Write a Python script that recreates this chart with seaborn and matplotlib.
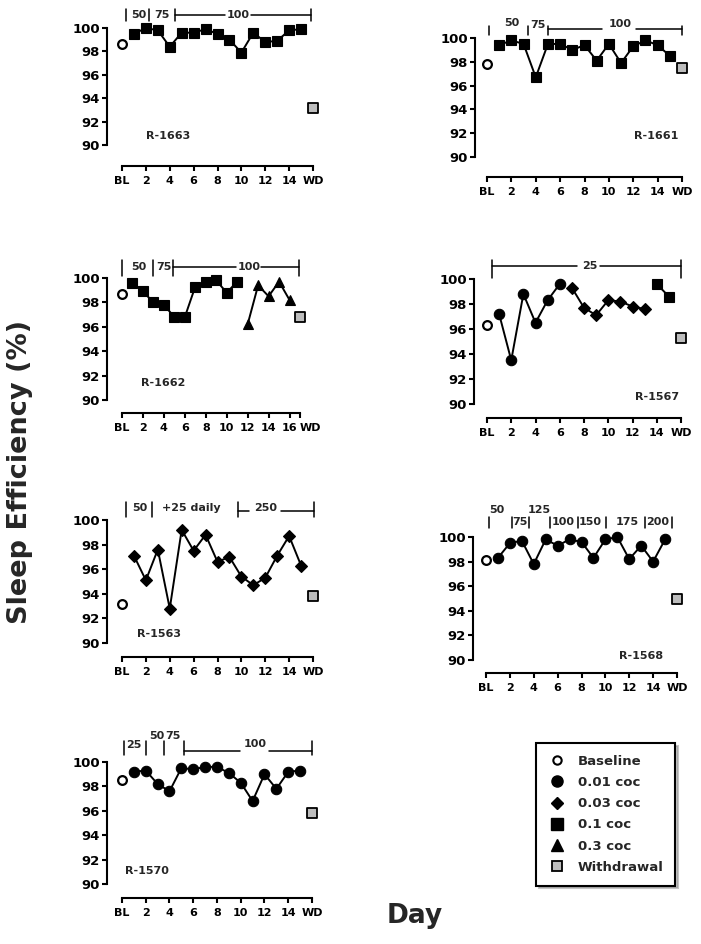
#!/usr/bin/env python3
"""Sleep efficiency per subject across cocaine self-administration days."""

import matplotlib
matplotlib.use("Agg")
import matplotlib.pyplot as plt
from matplotlib.lines import Line2D
from matplotlib.transforms import ScaledTranslation
import seaborn as sns

W, H = 701, 944

# ---------------- data (sleep efficiency, %) ----------------
R1663_BL, R1663_WD = 98.6, 93.2
R1663_SQ_DAYS = list(range(1, 16))
R1663_SQ = [99.5, 100.0, 99.8, 98.4, 99.6, 99.6, 99.9, 99.5, 99.0, 97.9,
            99.6, 98.8, 98.9, 99.8, 99.9]

R1661_BL, R1661_WD = 97.8, 97.5
R1661_SQ_DAYS = list(range(1, 16))
R1661_SQ = [99.4, 99.8, 99.5, 96.7, 99.5, 99.5, 99.0, 99.4, 98.1, 99.5,
            97.9, 99.3, 99.8, 99.4, 98.5]

R1662_BL, R1662_WD = 98.7, 96.8
R1662_SQ_DAYS = list(range(1, 12))
R1662_SQ = [99.6, 98.9, 98.0, 97.8, 96.8, 96.8, 99.3, 99.7, 99.8, 98.8, 99.7]
R1662_TRI_DAYS = list(range(12, 17))
R1662_TRI = [96.2, 99.4, 98.5, 99.7, 98.2]

R1567_BL, R1567_WD = 96.3, 95.3
R1567_CIR_DAYS = list(range(1, 7))
R1567_CIR = [97.2, 93.5, 98.8, 96.5, 98.3, 99.6]
R1567_DIA_DAYS = list(range(7, 14))
R1567_DIA = [99.3, 97.7, 97.1, 98.3, 98.2, 97.8, 97.6]
R1567_SQ_DAYS = [14, 15]
R1567_SQ = [99.6, 98.6]

R1563_BL, R1563_WD = 93.2, 93.8
R1563_DIA_DAYS = list(range(1, 16))
R1563_DIA = [97.1, 95.1, 97.6, 92.8, 99.2, 97.5, 98.8, 96.6, 97.0, 95.4,
             94.7, 95.3, 97.1, 98.7, 96.3]

R1568_BL, R1568_WD = 98.1, 95.0
R1568_CIR_DAYS = list(range(1, 16))
R1568_CIR = [98.3, 99.5, 99.7, 97.8, 99.8, 99.3, 99.8, 99.6, 98.3, 99.8,
             100.0, 98.2, 99.3, 98.0, 99.8]

R1570_BL, R1570_WD = 98.5, 95.8
R1570_CIR_DAYS = list(range(1, 16))
R1570_CIR = [99.2, 99.3, 98.2, 97.6, 99.5, 99.4, 99.6, 99.6, 99.1, 98.3,
             96.8, 99.0, 97.8, 99.2, 99.3]

LEGEND_LABELS = ["Baseline", "0.01 coc", "0.03 coc", "0.1 coc", "0.3 coc",
                 "Withdrawal"]

# marker styles per condition
MARK = {
    "cir": dict(marker="o", markersize=7.5),
    "dia": dict(marker="D", markersize=5.8),
    "sq": dict(marker="s", markersize=7),
    "tri": dict(marker="^", markersize=7.5),
}

# panel layout in pixels of the reference + dose annotations
PANELS = [
    dict(name="R-1663", geo=(107, 122, 313, 28, 145, 166, 16),
         bl=R1663_BL, wd=R1663_WD, segs=[("sq", R1663_SQ_DAYS, R1663_SQ)],
         label=(3.85, 90.8),
         ticks=[0.36, 2.3, 4.45, 15.8], trange=(100.6, 101.6), ly=101.1,
         lines=[(4.45, 8.6), (10.8, 15.8)],
         texts=[(1.45, 101.1, "50"), (3.35, 101.1, "75"), (9.7, 101.1, "100")]),
    dict(name="R-1661", geo=(475, 487, 682, 38, 157, 177, 16),
         bl=R1661_BL, wd=R1661_WD, segs=[("sq", R1661_SQ_DAYS, R1661_SQ)],
         label=(13.9, 91.8),
         ticks=[0.16, 3.4, 4.97, 16.0], trange=(100.25, 101.0), ly=100.73,
         lines=[(4.97, 9.4), (12.2, 16.0)],
         texts=[(2.0, 101.3, "50"), (4.2, 101.1, "75"), (10.9, 101.2, "100")]),
    dict(name="R-1662", geo=(107, 122, 300, 278, 400, 413, 17), wd_dx=10,
         bl=R1662_BL, wd=R1662_WD,
         segs=[("sq", R1662_SQ_DAYS, R1662_SQ), ("tri", R1662_TRI_DAYS, R1662_TRI)],
         label=(3.9, 91.4),
         ticks=[0.0, 2.95, 4.86, 16.9], trange=(100.2, 101.45), ly=100.93,
         lines=[(4.86, 10.9), (13.3, 16.9)],
         texts=[(1.65, 100.93, "50"), (3.97, 100.93, "75"), (12.1, 100.93, "100")]),
    dict(name="R-1567", geo=(474, 487, 681, 279, 404, 418, 16),
         bl=R1567_BL, wd=R1567_WD,
         segs=[("cir", R1567_CIR_DAYS, R1567_CIR), ("dia", R1567_DIA_DAYS, R1567_DIA),
               ("sq", R1567_SQ_DAYS, R1567_SQ)],
         label=(14.0, 90.6),
         ticks=[0.4, 16.0], trange=(100.1, 101.5), ly=101.05,
         lines=[(0.4, 7.4), (9.3, 16.0)],
         texts=[(8.5, 101.05, "25")]),
    dict(name="R-1563", geo=(107, 122, 313, 520, 643, 657, 16),
         bl=R1563_BL, wd=R1563_WD, segs=[("dia", R1563_DIA_DAYS, R1563_DIA)],
         label=(3.1, 90.7),
         ticks=[0.36, 2.5, 9.7, 16.06], trange=(100.25, 101.5), ly=100.75,
         lines=[(9.7, 10.6), (13.3, 16.06)],
         texts=[(1.5, 100.95, "50"), (5.8, 100.95, "+25 daily"), (12.0, 100.95, "250")]),
    dict(name="R-1568", geo=(473, 486, 677, 537, 660, 673, 16),
         bl=R1568_BL, wd=R1568_WD, segs=[("cir", R1568_CIR_DAYS, R1568_CIR)],
         label=(13.0, 90.3),
         ticks=[0.28, 2.15, 3.63, 5.36, 7.73, 10.05, 13.3, 15.55],
         trange=(100.7, 101.65), ly=None, lines=[],
         texts=[(0.9, 102.2, "50"), (4.5, 102.2, "125"), (2.85, 101.25, "75"),
                (6.5, 101.25, "100"), (8.75, 101.25, "150"), (11.8, 101.25, "175"),
                (14.4, 101.25, "200")]),
    dict(name="R-1570", geo=(107, 122, 312, 762, 884, 898, 16),
         bl=R1570_BL, wd=R1570_WD, segs=[("cir", R1570_CIR_DAYS, R1570_CIR)],
         label=(2.1, 91.1),
         ticks=[0.14, 2.0, 3.5, 5.2, 16.0], trange=(100.6, 101.7), ly=100.93,
         lines=[(5.2, 9.9), (12.4, 16.0)],
         texts=[(1.0, 101.4, "25"), (2.9, 102.1, "50"), (4.3, 102.1, "75"),
                (11.2, 101.5, "100")]),
]

BL_STYLE = dict(marker="o", s=6.3 ** 2, facecolor="white", edgecolor="black", linewidth=1.6)
WD_STYLE = dict(marker="s", s=6.5 ** 2, facecolor="#bdbdbd", edgecolor="black", linewidth=1.3)
LW = 1.4


def set_plotting_style():
    sns.set_style("ticks")
    plt.rcParams['font.family'] = ['DejaVu Sans']
    plt.rcParams['font.weight'] = 'bold'
    plt.rcParams['axes.linewidth'] = 1.5
    plt.rcParams['xtick.major.width'] = 1.5
    plt.rcParams['ytick.major.width'] = 1.5
    plt.rcParams['xtick.major.size'] = 3.5
    plt.rcParams['ytick.major.size'] = 3.5
    plt.rcParams['xtick.major.pad'] = 4
    plt.rcParams['ytick.major.pad'] = 1.5
    plt.rcParams['xtick.color'] = 'black'
    plt.rcParams['ytick.color'] = 'black'
    plt.rcParams['axes.edgecolor'] = 'black'


def make_axes(fig, geo):
    yaxis_px, bl_px, wd_px, y100_px, y90_px, xaxis_px, wd_idx = geo
    x_ppu = (wd_px - bl_px) / wd_idx
    y_ppu = (y90_px - y100_px) / 10.0
    right_px = wd_px + 8
    top_px = y100_px - 6
    ax = fig.add_axes([yaxis_px / W, 1 - xaxis_px / H,
                       (right_px - yaxis_px) / W, (xaxis_px - top_px) / H])
    xlim = (-(bl_px - yaxis_px) / x_ppu, wd_idx + (right_px - wd_px) / x_ppu)
    ylim = (90 - (xaxis_px - y90_px) / y_ppu, 100 + (y100_px - top_px) / y_ppu)
    return ax, xlim, ylim


def draw_panel(fig, p):
    ax, xlim, ylim = make_axes(fig, p["geo"])
    wd_idx = p["geo"][-1]

    for kind, days, vals in p["segs"]:
        sns.lineplot(x=days, y=vals, ax=ax, color="black", linewidth=LW,
                     markerfacecolor="black", markeredgecolor="black",
                     markeredgewidth=0.8, errorbar=None, legend=False,
                     **MARK[kind])
    sns.scatterplot(x=[0], y=[p["bl"]], ax=ax, zorder=4, legend=False, **BL_STYLE)
    sns.scatterplot(x=[wd_idx], y=[p["wd"]], ax=ax, zorder=4, legend=False, **WD_STYLE)

    ax.set_xlim(*xlim)
    ax.set_ylim(*ylim)
    sns.despine(ax=ax)
    ax.spines['left'].set_bounds(90, 100)
    ax.spines['bottom'].set_bounds(0, wd_idx)

    xt = [0] + list(range(2, wd_idx, 2)) + [wd_idx]
    ax.set_xticks(xt)
    ax.set_xticklabels(["BL"] + [str(t) for t in xt[1:-1]] + ["WD"], fontsize=8)
    ax.set_yticks(range(90, 101, 2))
    ax.set_yticklabels([str(t) for t in range(90, 101, 2)], fontsize=9.5)
    ax.set_xlabel("")
    ax.set_ylabel("")

    # shift the WD label a bit to the right where the axis is crowded
    dx = p.get("wd_dx", 0)
    if dx:
        lab = ax.get_xticklabels()[-1]
        lab.set_transform(lab.get_transform()
                          + ScaledTranslation(dx / 100, 0, fig.dpi_scale_trans))

    ax.text(p["label"][0], p["label"][1], p["name"], ha="center", va="center",
            fontsize=8)

    # dose annotations above each panel
    lo, hi = p["trange"]
    for x in p["ticks"]:
        ax.plot([x, x], [lo, hi], color="black", lw=1.1, clip_on=False)
    for x0, x1 in p["lines"]:
        ax.plot([x0, x1], [p["ly"], p["ly"]], color="black", lw=1.1, clip_on=False)
    for x, y, s in p["texts"]:
        ax.text(x, y, s, ha="center", va="center", fontsize=8, clip_on=False)
    return ax


def main():
    set_plotting_style()
    fig = plt.figure(figsize=(W / 100, H / 100), dpi=100)

    for p in PANELS:
        draw_panel(fig, p)

    fig.text(20 / W, 1 - 472 / H, "Sleep Efficiency (%)", rotation=90,
             ha="center", va="center", fontsize=19.5)
    fig.text(415 / W, 1 - 916 / H, "Day", ha="center", va="center", fontsize=19)

    handles = [
        Line2D([], [], ls="none", marker="o", ms=6, mfc="white", mec="black", mew=1.5),
        Line2D([], [], ls="none", marker="o", ms=8, mfc="black", mec="black"),
        Line2D([], [], ls="none", marker="D", ms=6.5, mfc="black", mec="black"),
        Line2D([], [], ls="none", marker="s", ms=8, mfc="black", mec="black"),
        Line2D([], [], ls="none", marker="^", ms=9, mfc="black", mec="black"),
        Line2D([], [], ls="none", marker="s", ms=7.5, mfc="#bdbdbd", mec="black", mew=1.3),
    ]
    leg = fig.legend(handles, LEGEND_LABELS, loc="upper left",
                     bbox_to_anchor=(536 / W, 1 - 743 / H), borderaxespad=0,
                     frameon=True, fancybox=False, edgecolor="black",
                     fontsize=9.5, handlelength=1.4, handletextpad=0.85,
                     labelspacing=0.62, borderpad=0.9,
                     shadow={"color": "0.55", "alpha": 0.5})
    leg.get_frame().set_linewidth(1.5)
    leg.get_frame().set_alpha(1)

    fig.savefig("out.png", dpi=100)
    plt.close(fig)


if __name__ == "__main__":
    main()
